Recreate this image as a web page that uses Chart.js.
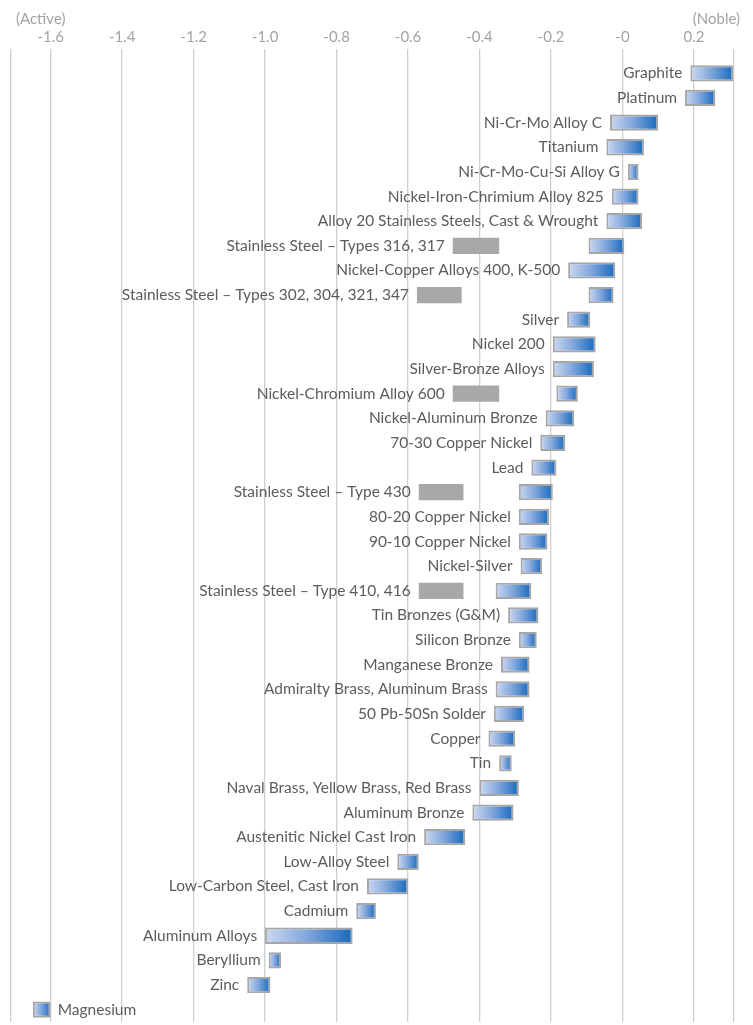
<!DOCTYPE html>
<html>
<head>
<meta charset="utf-8">
<script src="https://cdn.jsdelivr.net/npm/chart.js@4.4.1/dist/chart.umd.min.js"></script>
<style>
  html, body { margin: 0; padding: 0; background: #ffffff; }
  #wrap { width: 753px; height: 1025px; position: relative; }
</style>
</head>
<body>
<div id="wrap"><canvas id="c" width="753" height="1025"></canvas></div>
<script>
// ---- Data ----
const categories = [
  "Graphite", "Platinum", "Ni-Cr-Mo Alloy C", "Titanium", "Ni-Cr-Mo-Cu-Si Alloy G",
  "Nickel-Iron-Chrimium Alloy 825", "Alloy 20 Stainless Steels, Cast & Wrought",
  "Stainless Steel \u2013 Types 316, 317", "Nickel-Copper Alloys 400, K-500",
  "Stainless Steel \u2013 Types 302, 304, 321, 347", "Silver", "Nickel 200",
  "Silver-Bronze Alloys", "Nickel-Chromium Alloy 600", "Nickel-Aluminum Bronze",
  "70-30 Copper Nickel", "Lead", "Stainless Steel \u2013 Type 430", "80-20 Copper Nickel",
  "90-10 Copper Nickel", "Nickel-Silver", "Stainless Steel \u2013 Type 410, 416",
  "Tin Bronzes (G&M)", "Silicon Bronze", "Manganese Bronze",
  "Admiralty Brass, Aluminum Brass", "50 Pb-50Sn Solder", "Copper", "Tin",
  "Naval Brass, Yellow Brass, Red Brass", "Aluminum Bronze",
  "Austenitic Nickel Cast Iron", "Low-Alloy Steel", "Low-Carbon Steel, Cast Iron",
  "Cadmium", "Aluminum Alloys", "Beryllium", "Zinc", "Magnesium"
];

// Corrosion potential range (V), low end
const rangeLow = [
  0.19, 0.175, -0.035, -0.045, 0.015, -0.03, -0.045, -0.095, -0.152, -0.095,
  -0.155, -0.195, -0.195, -0.185, -0.215, -0.23, -0.255, -0.29, -0.29, -0.29,
  -0.285, -0.355, -0.32, -0.29, -0.34, -0.355, -0.36, -0.375, -0.345, -0.40,
  -0.42, -0.555, -0.63, -0.715, -0.745, -1.0, -0.99, -1.05, -1.65
];
// Corrosion potential range (V), high end
const rangeHigh = [
  0.31, 0.26, 0.10, 0.06, 0.045, 0.045, 0.055, 0.005, -0.02, -0.025,
  -0.09, -0.075, -0.08, -0.125, -0.135, -0.16, -0.185, -0.195, -0.205, -0.21,
  -0.225, -0.255, -0.235, -0.24, -0.26, -0.26, -0.275, -0.30, -0.31, -0.29,
  -0.305, -0.44, -0.57, -0.60, -0.69, -0.755, -0.955, -0.985, -1.60
];
// Active-state range for stainless / nickel-chromium alloys (null where none)
const activeLow = [
  null, null, null, null, null, null, null, -0.475, null, -0.575,
  null, null, null, -0.475, null, null, null, -0.57, null, null,
  null, -0.57, null, null, null, null, null, null, null, null,
  null, null, null, null, null, null, null, null, null
];
const activeHigh = [
  null, null, null, null, null, null, null, -0.345, null, -0.45,
  null, null, null, -0.345, null, null, null, -0.445, null, null,
  null, -0.445, null, null, null, null, null, null, null, null,
  null, null, null, null, null, null, null, null, null
];

const tickLabels = ["-1.6", "-1.4", "-1.2", "-1.0", "-0.8", "-0.6", "-0.4", "-0.2", "-0", "0.2"];
const axisEndLabels = ["(Active)", "(Noble)"];

// ---- Build ----
const FONT = "Lato, 'Open Sans', sans-serif";
const xMin = -1.711, xMax = 0.312;

const passiveData = categories.map((c, i) => [rangeLow[i], rangeHigh[i]]);
const activeData = categories.map((c, i) =>
  activeLow[i] == null ? null : [activeLow[i], activeHigh[i]]);

function blueGradient(ctx) {
  const chart = ctx.chart;
  const xs = chart.scales.x;
  if (!xs || !ctx.raw) return '#5b8fd1';
  const x0 = xs.getPixelForValue(ctx.raw[0]);
  const x1 = xs.getPixelForValue(ctx.raw[1]);
  if (!isFinite(x0) || !isFinite(x1) || x1 - x0 < 1) return '#5b8fd1';
  const g = chart.ctx.createLinearGradient(x0, 0, x1, 0);
  g.addColorStop(0, '#cdd9f1');
  g.addColorStop(0.45, '#86a9dd');
  g.addColorStop(1, '#1769bd');
  return g;
}

const labelPlugin = {
  id: 'rowLabels',
  afterDatasetsDraw(chart) {
    const { ctx, chartArea } = chart;
    const xs = chart.scales.x, ys = chart.scales.y;
    ctx.save();
    ctx.font = '15.5px ' + FONT;
    ctx.fillStyle = '#5c5c5c';
    ctx.textBaseline = 'middle';
    categories.forEach((name, i) => {
      const lo = activeLow[i] != null ? Math.min(activeLow[i], rangeLow[i]) : rangeLow[i];
      const hi = rangeHigh[i];
      const y = ys.getPixelForValue(i);
      const w = ctx.measureText(name).width;
      const xl = xs.getPixelForValue(lo) - 8;
      if (xl - w > chartArea.left + 2) {
        ctx.textAlign = 'right';
        ctx.fillText(name, xl, y);
      } else {
        ctx.textAlign = 'left';
        ctx.fillText(name, xs.getPixelForValue(hi) + 7, y);
      }
    });
    // axis end captions
    ctx.font = '15px ' + FONT;
    ctx.fillStyle = '#a3a3a3';
    ctx.textAlign = 'left';
    ctx.fillText(axisEndLabels[0], 16, 19);
    ctx.textAlign = 'right';
    ctx.fillText(axisEndLabels[1], 740, 19);
    ctx.restore();
  }
};

new Chart(document.getElementById('c'), {
  type: 'bar',
  data: {
    labels: categories,
    datasets: [
      {
        label: 'Active',
        data: activeData,
        backgroundColor: '#a8a8ab',
        borderWidth: 0,
        grouped: false,
        barPercentage: 0.66,
        categoryPercentage: 1
      },
      {
        label: 'Range',
        data: passiveData,
        backgroundColor: blueGradient,
        borderColor: '#a6a6a6',
        borderWidth: 2,
        borderSkipped: false,
        grouped: false,
        barPercentage: 0.66,
        categoryPercentage: 1
      }
    ]
  },
  options: {
    indexAxis: 'y',
    responsive: false,
    animation: false,
    layout: { padding: { left: 11, right: 19, top: 25, bottom: 3 } },
    plugins: { legend: { display: false }, tooltip: { enabled: false } },
    scales: {
      x: {
        position: 'top',
        min: xMin,
        max: xMax,
        afterBuildTicks(scale) {
          const vals = tickLabels.map(t => parseFloat(t));
          scale.ticks = [{ value: xMin }].concat(vals.map(v => ({ value: v })), [{ value: xMax }]);
        },
        ticks: {
          autoSkip: false,
          maxRotation: 0,
          padding: 3,
          color: '#a3a3a3',
          font: { family: FONT, size: 15 },
          callback(value, index, ticks) {
            if (index === 0 || index === ticks.length - 1) return '';
            return tickLabels[index - 1];
          }
        },
        grid: {
          color: '#cfcfcf',
          lineWidth: 1.3,
          drawTicks: true,
          tickLength: 12,
          tickColor: '#cfcfcf'
        },
        border: { display: false }
      },
      y: {
        display: false,
        offset: true
      }
    }
  },
  plugins: [labelPlugin]
});
</script>
</body>
</html>
